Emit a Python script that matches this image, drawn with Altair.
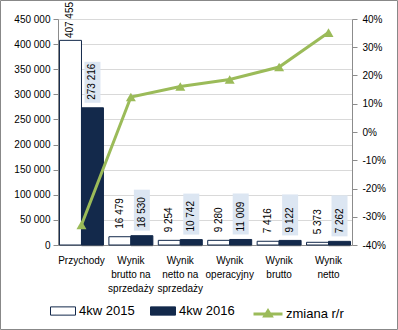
import altair as alt
import pandas as pd

categories = ["Przychody", "Wynik\nbrutto na\nsprzedaży", "Wynik\nnetto na\nsprzedaży",
              "Wynik\noperacyjny", "Wynik\nbrutto", "Wynik\nnetto"]
series = ["4kw 2015", "4kw 2016"]
values_2015 = [407455, 16479, 9254, 9280, 7416, 5373]
values_2016 = [273216, 18530, 10742, 11009, 9122, 7262]
change = [-0.329, 0.124, 0.161, 0.186, 0.230, 0.352]
line_name = "zmiana r/r"
left_ticks = [0, 50000, 100000, 150000, 200000, 250000, 300000, 350000, 400000, 450000]
right_ticks = [-0.4, -0.3, -0.2, -0.1, 0.0, 0.1, 0.2, 0.3, 0.4]

NAVY = "#13294b"
GREEN = "#9bbb59"
FONT = "Liberation Sans"

rows = []
for c, a, b in zip(categories, values_2015, values_2016):
    rows.append({"category": c, "series": series[0], "value": a})
    rows.append({"category": c, "series": series[1], "value": b})
bars_df = pd.DataFrame(rows)
line_df = pd.DataFrame({"category": categories, "change": change, "name": line_name})

x_enc = alt.X("category:N", sort=categories,
              scale=alt.Scale(paddingInner=0.11, paddingOuter=0.03),
              axis=alt.Axis(title=None, labelAngle=0, labelExpr="split(datum.label, '\\n')",
                            labelFont=FONT, labelFontSize=10, labelColor="#000",
                            labelLineHeight=14, labelPadding=10, labelBaseline="top",
                            ticks=False, domainColor="#8c8c8c", grid=False))
xoff = alt.XOffset("series:N", sort=series, scale=alt.Scale(paddingInner=0, paddingOuter=0))
y_scale = alt.Scale(domain=[0, 450000], nice=False)
y_axis = alt.Axis(title=None, values=left_ticks,
                  labelExpr="replace(format(datum.value, ','), regexp(',', 'g'), ' ')",
                  labelFont=FONT, labelFontSize=10, labelColor="#000",
                  domainColor="#8c8c8c", tickColor="#8c8c8c", tickSize=5,
                  labelPadding=3, gridColor="#d9d9d9")
y_enc = alt.Y("value:Q", scale=y_scale, axis=y_axis)
y_lab = alt.Y("labely:Q", scale=y_scale, axis=y_axis)

base = alt.Chart(bars_df).transform_calculate(
    label="replace(format(datum.value, ','), regexp(',', 'g'), ' ')",
    labely="min(datum.value, 396000)"
)

shadow = base.transform_filter(alt.datum.series == series[1]).mark_bar(
    fill="#000", opacity=0.12, xOffset=4, yOffset=2
).encode(x=x_enc, xOffset=xoff, y=y_enc)

bars = base.mark_bar(stroke=NAVY, strokeWidth=1).encode(
    x=x_enc, xOffset=xoff, y=y_enc,
    fill=alt.Fill("series:N", sort=series,
                  scale=alt.Scale(domain=series, range=["#ffffff", NAVY]),
                  legend=alt.Legend(title=None, orient="none", legendX=-8, legendY=279,
                                    direction="horizontal",
                                    symbolType="M-1,-0.33H1V0.33H-1Z", symbolSize=625,
                                    symbolStrokeColor=NAVY, symbolStrokeWidth=1,
                                    labelFont=FONT, labelFontSize=13, labelColor="#000",
                                    labelOffset=3, columnPadding=13))
)

boxes = base.transform_filter(alt.datum.series == series[1]).mark_bar(
    width=16, fill="#dce6f2", yOffset=-5, y2Offset=-46
).encode(x=x_enc, xOffset=xoff, y=y_enc, y2=alt.Y2("value:Q"))

labels = base.mark_text(angle=270, align="left", baseline="middle", fontSize=10,
                        font=FONT, color="#000", yOffset=-8).encode(
    x=x_enc, xOffset=xoff, y=y_lab, text="label:N"
)

bar_layer = alt.layer(shadow, bars, boxes, labels)

line = alt.Chart(line_df).mark_line(
    strokeWidth=3,
    point=alt.OverlayMarkDef(shape="triangle-up", size=100, filled=True, fill=GREEN, strokeWidth=0)
).encode(
    x=alt.X("category:N", sort=categories),
    y=alt.Y("change:Q", scale=alt.Scale(domain=[-0.4, 0.4], nice=False),
            axis=alt.Axis(title=None, orient="right", values=right_ticks,
                          labelExpr="replace(format(datum.value, '.0%'), '\u2212', '-')",
                          labelFont=FONT, labelFontSize=10, labelColor="#000",
                          domainColor="#8c8c8c", tickColor="#8c8c8c", tickSize=5,
                          labelPadding=5, grid=False)),
    stroke=alt.Stroke("name:N", scale=alt.Scale(domain=[line_name], range=[GREEN]),
                      legend=alt.Legend(title=None, orient="none", legendX=194, legendY=279,
                                        symbolType="M-1,0H1M-0.22,0.14L0,-0.22L0.22,0.14Z",
                                        symbolSize=841, symbolStrokeWidth=3,
                                        labelFont=FONT, labelFontSize=13, labelColor="#000",
                                        labelOffset=2))
)

border = alt.Chart(alt.Data(values=[{}])).mark_rect(
    fill=None, stroke="#888888", strokeWidth=1
).encode(x=alt.value(-57.5), x2=alt.value(339.5), y=alt.value(-18.5), y2=alt.value(310.5))

chart = alt.layer(bar_layer, line, border).resolve_scale(
    y="independent"
).properties(
    width=294, height=226,
    autosize=alt.AutoSizeParams(type="none"),
    padding={"left": 58, "top": 19, "right": 46, "bottom": 85},
    background="white"
).configure_view(stroke=None)

chart.save("out.html", embed_options={"renderer": "svg", "actions": False})
